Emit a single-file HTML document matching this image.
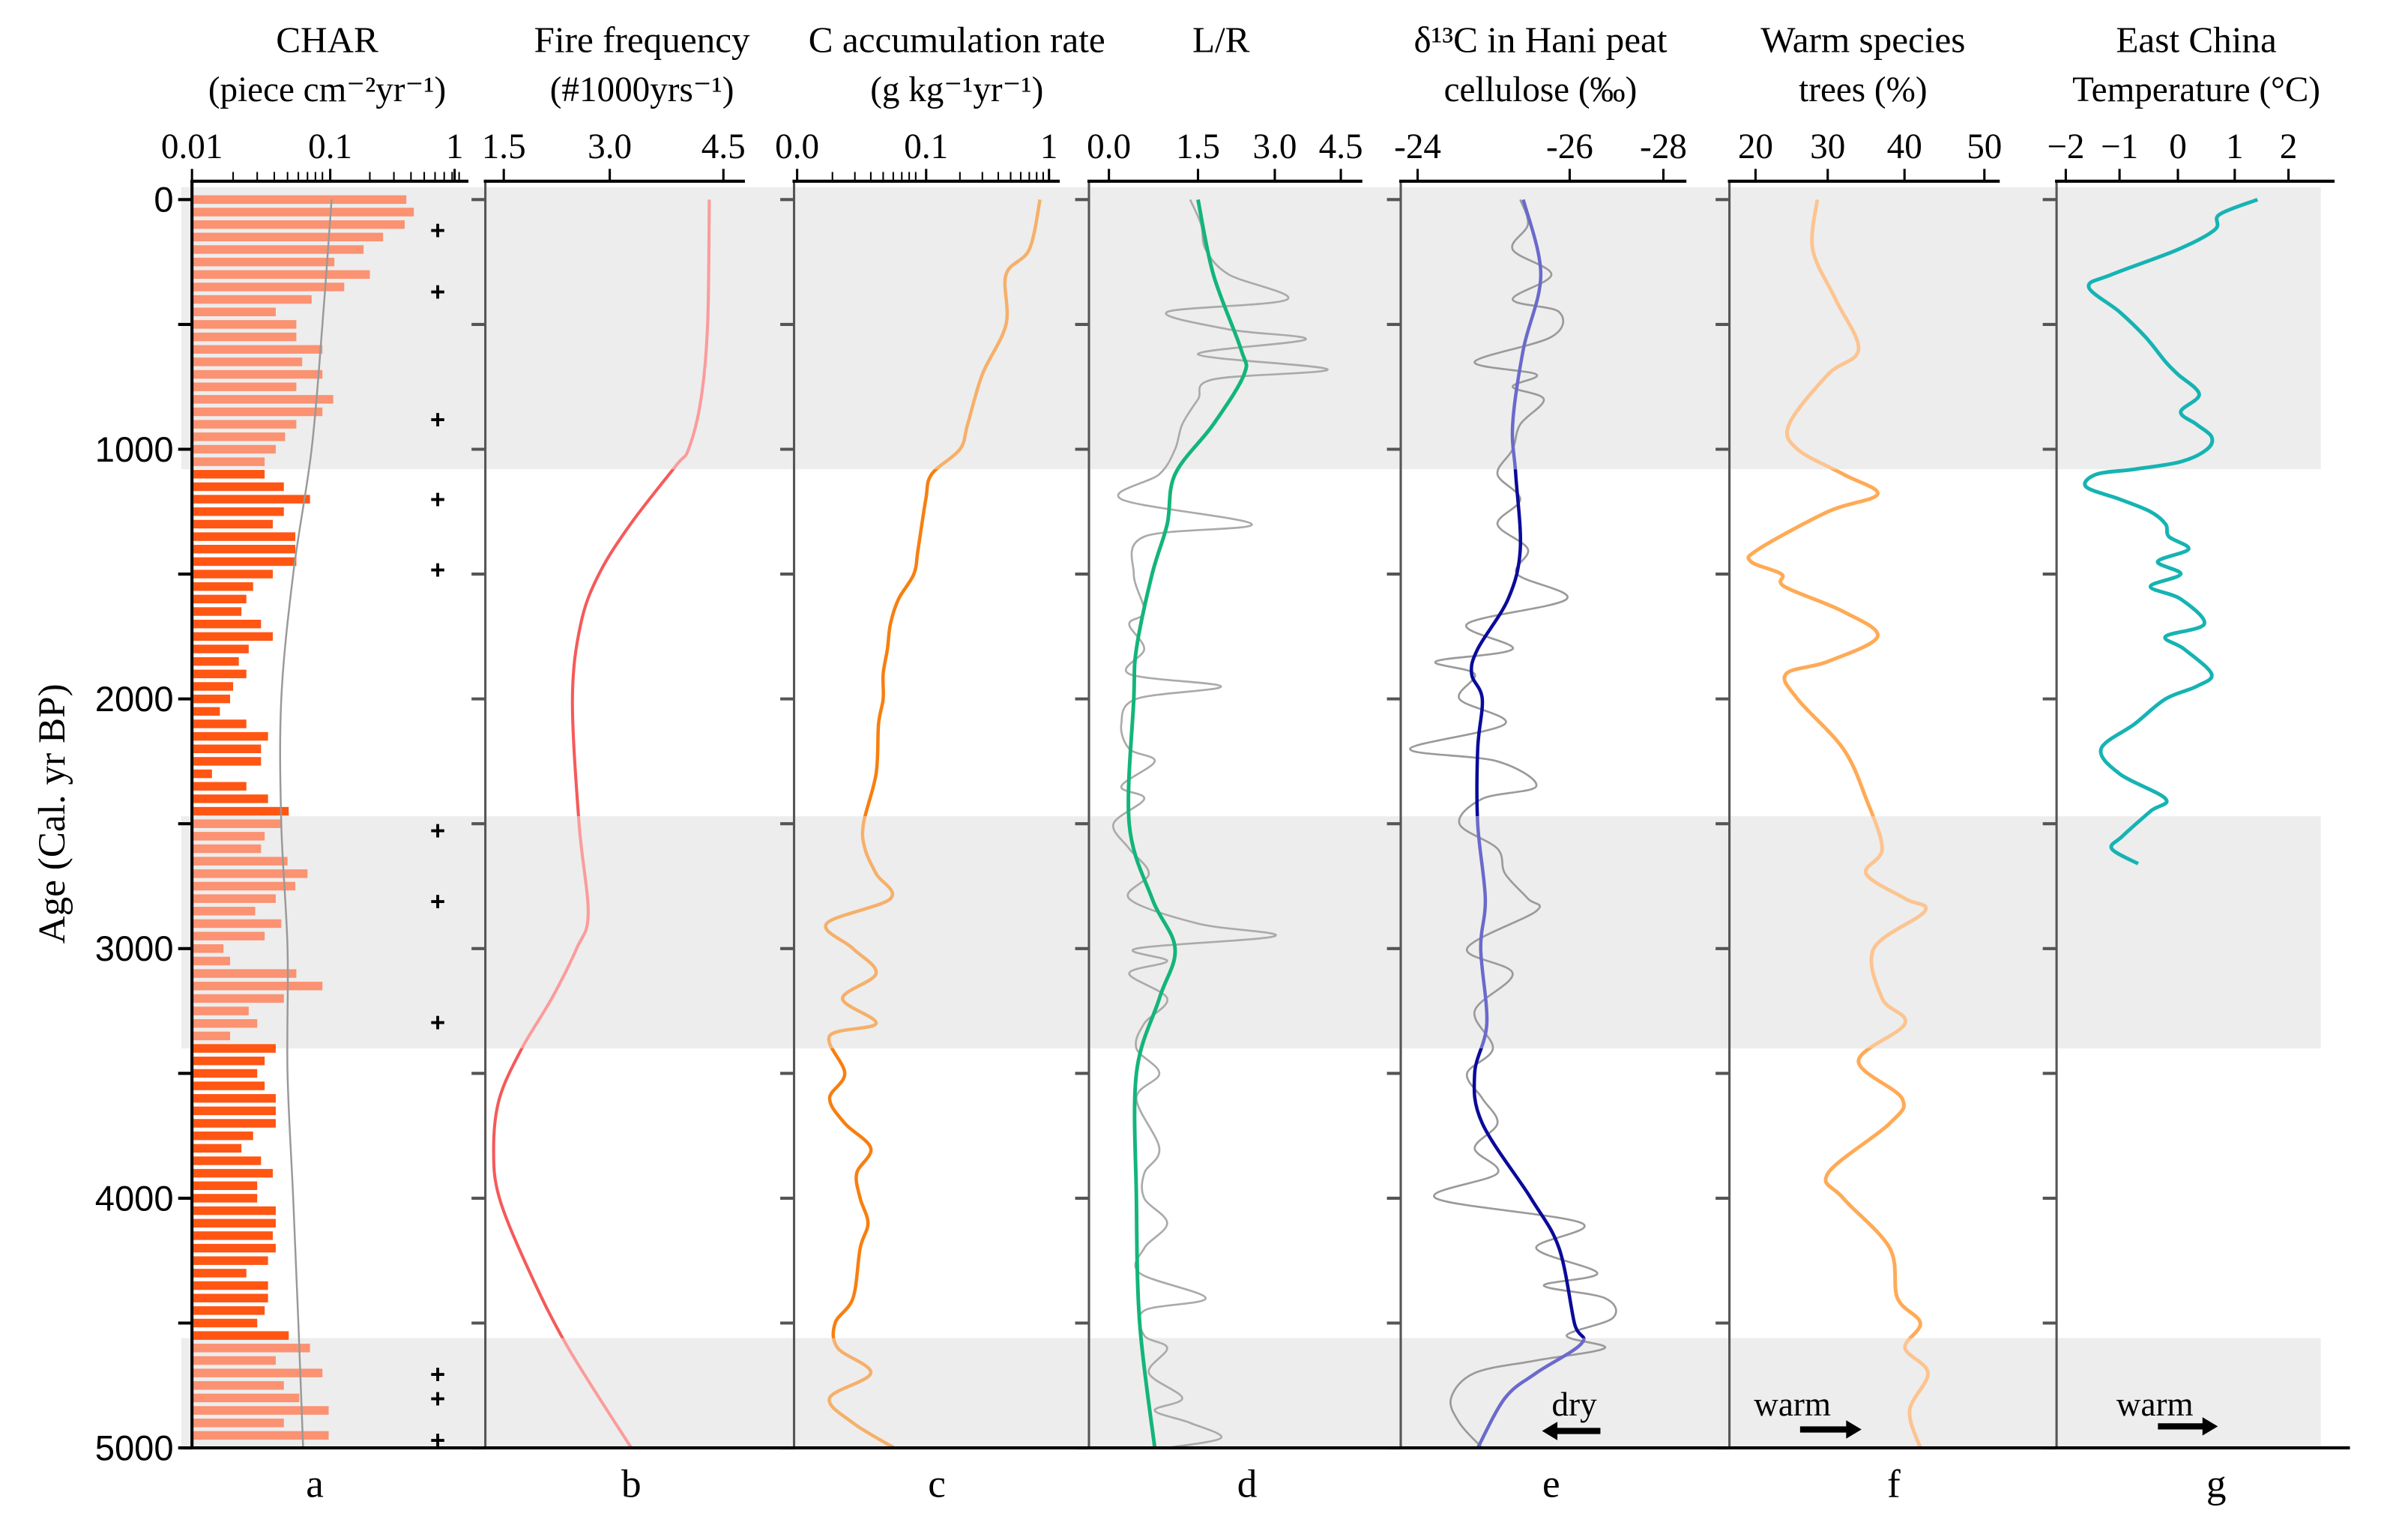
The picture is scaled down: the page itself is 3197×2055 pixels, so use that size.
<!DOCTYPE html>
<html><head><meta charset="utf-8"><style>html,body{margin:0;padding:0;background:#fff}svg{display:block}</style></head>
<body>
<svg id="chart" width="3197" height="2055" viewBox="0 0 1560 1003" preserveAspectRatio="none" xmlns="http://www.w3.org/2000/svg" font-family="Liberation Serif, serif">
<defs>
<clipPath id="shadeClip"></clipPath>
<clipPath id="whiteClip"></clipPath>
</defs>
<g id="bands"></g>
<g id="plots"></g>
<g id="axes"></g>
</svg>
<script>
const NS='http://www.w3.org/2000/svg';
// ---- data ----
const bandRanges=[[-50,1080],[2470,3400],[4560,5000]];
const yTicks=[0,1000,2000,3000,4000,5000];
const charAges=[0,50,100,150,200,250,300,350,400,450,500,550,600,650,700,750,800,850,900,950,1000,1050,1100,1150,1200,1250,1300,1350,1400,1450,1500,1550,1600,1650,1700,1750,1800,1850,1900,1950,2000,2050,2100,2150,2200,2250,2300,2350,2400,2450,2500,2550,2600,2650,2700,2750,2800,2850,2900,2950,3000,3050,3100,3150,3200,3250,3300,3350,3400,3450,3500,3550,3600,3650,3700,3750,3800,3850,3900,3950,4000,4050,4100,4150,4200,4250,4300,4350,4400,4450,4500,4550,4600,4650,4700,4750,4800,4850,4900,4950];
const charValues=[0.37,0.42,0.36,0.25,0.18,0.11,0.20,0.13,0.075,0.041,0.058,0.058,0.09,0.064,0.09,0.058,0.108,0.09,0.058,0.048,0.041,0.034,0.034,0.047,0.073,0.047,0.039,0.057,0.057,0.058,0.039,0.028,0.025,0.023,0.032,0.039,0.026,0.022,0.025,0.020,0.019,0.016,0.025,0.036,0.032,0.032,0.014,0.025,0.036,0.051,0.045,0.034,0.032,0.050,0.070,0.057,0.041,0.029,0.045,0.034,0.017,0.019,0.058,0.09,0.047,0.026,0.030,0.019,0.041,0.034,0.030,0.034,0.041,0.041,0.041,0.028,0.023,0.032,0.039,0.030,0.030,0.041,0.041,0.039,0.041,0.036,0.025,0.036,0.036,0.034,0.030,0.051,0.073,0.041,0.09,0.047,0.061,0.10,0.047,0.10];
const charBgAges=[0,500,1000,1500,2000,2500,3000,3500,4000,4500,5000];
const charBgValues=[0.105,0.09,0.075,0.055,0.045,0.045,0.05,0.05,0.055,0.06,0.065];
const peakAges=[123,369,880,1200,1482,2527,2810,3296,4705,4803,4969];
const fireAges=[0,500,800,1000,1065,1300,1500,1700,2000,2500,2860,3000,3200,3400,3600,3800,4000,4300,4600,5000];
const fireValues=[4.2,4.18,4.1,3.95,3.8,3.25,2.87,2.65,2.55,2.63,2.74,2.6,2.3,1.94,1.67,1.6,1.67,2.04,2.5,3.26];
const cAges=[0,200,300,500,700,900,1000,1100,1200,1400,1500,1600,1700,1800,1900,2000,2100,2300,2500,2600,2700,2800,2900,3000,3100,3200,3300,3350,3500,3600,3700,3800,3900,4000,4100,4200,4400,4500,4600,4700,4800,4900,5000];
const cValues=[0.85,0.70,0.46,0.46,0.30,0.23,0.20,0.12,0.108,0.094,0.087,0.066,0.057,0.054,0.050,0.050,0.046,0.044,0.035,0.036,0.044,0.057,0.018,0.029,0.044,0.024,0.044,0.019,0.025,0.019,0.025,0.040,0.031,0.033,0.038,0.033,0.029,0.021,0.022,0.040,0.019,0.029,0.061];
const lrSmoothAges=[0,300,600,700,900,1100,1300,1500,1800,2000,2500,2800,3000,3200,3500,4000,4500,5000];
const lrSmoothValues=[1.5,1.8,2.34,2.4,1.8,1.15,1.03,0.8,0.56,0.52,0.45,0.8,1.15,0.91,0.56,0.56,0.61,0.84];
const lrRawAges=[0,100,200,300,400,450,520,560,620,680,720,800,900,1000,1100,1200,1300,1350,1500,1650,1700,1800,1900,1950,2000,2100,2200,2250,2350,2400,2500,2600,2700,2800,2900,2950,3000,3050,3100,3200,3300,3400,3500,3600,3800,3900,4000,4100,4200,4300,4400,4450,4550,4600,4700,4800,4850,4900,4960,5000];
const lrRawValues=[1.38,1.56,1.65,2.1,3.28,1.03,2.1,3.7,1.5,4.2,1.8,1.5,1.26,1.15,0.91,0.33,2.55,0.68,0.52,0.68,0.45,0.68,0.45,1.95,0.56,0.33,0.45,0.84,0.33,0.68,0.21,0.45,0.75,0.45,1.5,3.0,0.56,1.03,0.45,1.03,0.68,0.56,0.91,0.56,0.91,0.68,0.68,1.03,0.68,0.61,1.65,0.68,0.68,1.03,0.75,1.26,0.84,1.38,1.95,1.03];
const d13SmoothAges=[0,300,600,900,1100,1400,1600,1800,1900,2000,2200,2500,2800,3000,3300,3500,3700,4000,4200,4500,4580,4700,4800,5000];
const d13SmoothValues=[-25.39,-25.62,-25.39,-25.25,-25.29,-25.35,-25.19,-24.79,-24.71,-24.85,-24.79,-24.79,-24.89,-24.83,-24.91,-24.75,-24.85,-25.49,-25.86,-26.1,-26.26,-25.56,-25.15,-24.79];
const d13RawAges=[0,100,200,300,400,450,550,650,700,750,800,900,1000,1100,1200,1300,1400,1500,1600,1700,1800,1850,1900,2000,2100,2200,2250,2350,2400,2500,2600,2700,2800,2850,3000,3100,3250,3400,3500,3600,3700,3800,3900,4000,4100,4200,4300,4350,4400,4480,4550,4600,4650,4700,4800,4900,5000];
const d13RawValues=[-25.35,-25.45,-25.25,-25.76,-25.25,-25.86,-25.76,-24.75,-25.56,-25.25,-25.66,-25.35,-25.25,-25.05,-25.35,-25.05,-25.45,-25.31,-25.96,-24.65,-25.25,-24.24,-24.75,-24.55,-25.15,-23.9,-25.05,-25.56,-24.85,-24.55,-25.05,-25.15,-25.45,-25.56,-24.65,-25.25,-24.75,-24.99,-24.65,-24.85,-25.05,-24.75,-25.05,-24.24,-26.26,-25.56,-26.59,-25.66,-26.75,-26.92,-25.96,-26.75,-25.56,-24.75,-24.44,-24.55,-24.85];
const warmAges=[0,200,400,600,700,900,1000,1100,1180,1250,1400,1450,1500,1550,1650,1750,1850,1900,2000,2200,2400,2600,2700,2800,2850,3000,3200,3300,3450,3600,3700,3900,4000,4200,4400,4500,4600,4700,4850,5000];
const warmValues=[28.1,27.5,30.5,33.5,29.5,24.4,25.5,31.5,36.0,29.5,20.4,19.4,23.4,23.8,31.5,36.0,29.5,24.0,25.5,31.5,34.5,36.6,34.5,39.6,42.2,35.5,36.6,39.6,33.5,39.2,37.6,29.5,31.5,37.6,38.6,41.6,39.6,42.6,40.2,41.6];
const tempAges=[0,60,120,200,300,350,450,550,650,700,780,850,900,950,1000,1050,1080,1100,1150,1200,1250,1300,1350,1400,1450,1500,1550,1600,1700,1750,1800,1900,1950,2000,2100,2200,2300,2400,2450,2550,2600,2660];
const tempValues=[1.42,0.74,0.66,0,-1.18,-1.59,-1.04,-0.58,-0.22,0,0.38,0.05,0.33,0.6,0.52,0.05,-0.77,-1.45,-1.64,-1.04,-0.49,-0.22,-0.16,0.19,-0.36,0.05,-0.49,0.05,0.47,-0.22,0.11,0.6,0.33,-0.22,-0.77,-1.37,-1.04,-0.22,-0.49,-0.99,-1.18,-0.71];

// ---- scales ----
const Y0=130,Y1=943;
const yS=a=>Y0+(a/5000)*(Y1-Y0);
const logS=(x0,x1,d0,d1)=>v=>x0+(Math.log10(v)-d0)/(d1-d0)*(x1-x0);
const pw=(dom,rng)=>v=>{const n=dom.length;const inc=dom[n-1]>dom[0];let i=0;while(i<n-2&&(inc?v>dom[i+1]:v<dom[i+1]))i++;return rng[i]+(v-dom[i])/(dom[i+1]-dom[i])*(rng[i+1]-rng[i]);};
const xA=logS(125,303,-2,0);
const xB=pw([1.5,4.5],[316,478]);
const xC=logS(517,683,-2,0);
const xD=pw([0,1.5,3,4.5],[716,780,830,873]);
const xE=pw([-24,-26,-28],[923,1022,1083]);
const xF=pw([20,50],[1143,1292]);
const xG=pw([-2,2],[1345,1491]);

function el(tag,attrs,parent){const e=document.createElementNS(NS,tag);for(const k in attrs)e.setAttribute(k,attrs[k]);parent.appendChild(e);return e;}
function txt(s,x,y,parent,opts){const t=el('text',Object.assign({x:x,y:y,'font-size':23,'text-anchor':'middle',fill:'#000'},opts||{}),parent);t.textContent=s;return t;}
function smoothPath(pts){let d='M'+pts[0][0].toFixed(2)+','+pts[0][1].toFixed(2);for(let i=0;i<pts.length-1;i++){const p0=pts[Math.max(0,i-1)],p1=pts[i],p2=pts[i+1],p3=pts[Math.min(pts.length-1,i+2)];const c1=[p1[0]+(p2[0]-p0[0])/6,p1[1]+(p2[1]-p0[1])/6],c2=[p2[0]-(p3[0]-p1[0])/6,p2[1]-(p3[1]-p1[1])/6];d+='C'+c1[0].toFixed(2)+','+c1[1].toFixed(2)+' '+c2[0].toFixed(2)+','+c2[1].toFixed(2)+' '+p2[0].toFixed(2)+','+p2[1].toFixed(2);}return d;}

const bands=document.getElementById('bands'),plots=document.getElementById('plots'),axes=document.getElementById('axes');
const scG=document.getElementById('shadeClip'),wcG=document.getElementById('whiteClip');
bandRanges.forEach((r,i)=>{const y0=yS(r[0]),y1=yS(r[1]);
 const b=el('rect',{x:118,y:y0,width:1393,height:y1-y0,fill:'#ededed'},bands);
 
 
 el('rect',{x:0,y:y0,width:1560,height:y1-y0},scG);});
let prev=0;bandRanges.forEach(r=>{const y0=yS(r[0]);if(y0>prev)el('rect',{x:0,y:prev,width:1560,height:y0-prev},wcG);prev=yS(r[1]);});
el('rect',{x:0,y:prev,width:1560,height:1003-prev},wcG);

function twoTone(d,dark,light,w,name){
 const g=el('g',{},plots);
 
 
 el('path',{d:d,fill:'none',stroke:dark,'stroke-width':w,'clip-path':'url(#whiteClip)'},g);
 el('path',{d:d,fill:'none',stroke:light,'stroke-width':w,'clip-path':'url(#shadeClip)'},g);}
function series(ages,vals,xf){return ages.map((a,i)=>[xf(vals[i]),yS(a)]);}

charAges.forEach((a,i)=>{const y=yS(a);const inShade=bandRanges.some(r=>a>=r[0]&&a<r[1]);
 const r=el('rect',{x:126,y:y-2.8,width:Math.max(0,xA(charValues[i])-126),height:5.6,fill:inShade?'#fb9272':'#ff5614'},plots);
 
 });
const bg=el('path',{d:smoothPath(series(charBgAges,charBgValues,xA)),fill:'none',stroke:'#999','stroke-width':1.2},plots);


peakAges.forEach(a=>{const t=txt('+',285,yS(a)+6,plots,{'font-size':17,'font-weight':'bold','font-family':'Liberation Sans, sans-serif'});
 
 });
twoTone(smoothPath(series(fireAges,fireValues,xB)),'#f55a5a','#fb9c9c',2,'fire-frequency-line');
twoTone(smoothPath(series(cAges,cValues,xC)),'#f77f10','#f6b06a',2.2,'c-accumulation-line');
const lrRaw=el('path',{d:smoothPath(series(lrRawAges,lrRawValues,xD)),fill:'none',stroke:'#aaa','stroke-width':1.3},plots);


const lrS=el('path',{d:smoothPath(series(lrSmoothAges,lrSmoothValues,xD)),fill:'none',stroke:'#13b57a','stroke-width':2.4},plots);


const eRaw=el('path',{d:smoothPath(series(d13RawAges,d13RawValues,xE)),fill:'none',stroke:'#9a9a9a','stroke-width':1.3},plots);


twoTone(smoothPath(series(d13SmoothAges,d13SmoothValues,xE)),'#0a0a9a','#6a6acc',2.2,'d13c-smooth-line');
twoTone(smoothPath(series(warmAges,warmValues,xF)),'#ffaa55','#fcc490',2.4,'warm-species-line');
const tl=el('path',{d:smoothPath(series(tempAges,tempValues,xG)),fill:'none',stroke:'#16b3b3','stroke-width':2.4},plots);



const panels=[
 {x:125,end:305,name:'char',t1:'CHAR',t2:'(piece cm\u207B\u00B2yr\u207B\u00B9)',cx:213,labels:[['0.01',125],['0.1',215],['1',296]],letter:'a',lx:205},
 {x:316,end:485,name:'fire-frequency',t1:'Fire frequency',t2:'(#1000yrs\u207B\u00B9)',cx:418,labels:[['1.5',328],['3.0',397],['4.5',471]],letter:'b',lx:411},
 {x:517,end:690,name:'c-accumulation',t1:'C accumulation rate',t2:'(g  kg\u207B\u00B9yr\u207B\u00B9)',cx:623,labels:[['0.0',519],['0.1',603],['1',683]],letter:'c',lx:610},
 {x:709,end:887,name:'lr',t1:'L/R',t2:'',cx:795,labels:[['0.0',722],['1.5',780],['3.0',830],['4.5',873]],letter:'d',lx:812},
 {x:912,end:1098,name:'d13c',t1:'\u03B4\u00B9\u00B3C in Hani peat',t2:'cellulose (\u2030)',cx:1003,labels:[['-24',923],['-26',1022],['-28',1083]],letter:'e',lx:1010},
 {x:1126,end:1302,name:'warm-species',t1:'Warm species',t2:'trees (%)',cx:1213,labels:[['20',1143],['30',1190],['40',1240],['50',1292]],letter:'f',lx:1233},
 {x:1339,end:1520,name:'temperature',t1:'East China',t2:'Temperature (\u00B0C)',cx:1430,labels:[['\u22122',1345],['\u22121',1380],['0',1418],['1',1455],['2',1490]],letter:'g',lx:1443}];
panels.forEach((p,i)=>{
 const g=el('g',{},axes);
 
 
 el('line',{x1:p.x,y1:118,x2:p.x,y2:943,stroke:i===0?'#000':'#555','stroke-width':i===0?2:1.5},g);
 el('line',{x1:p.x-1,y1:118,x2:p.end,y2:118,stroke:'#000','stroke-width':2},g);
 for(let a=0;a<=5000;a+=500){el('line',{x1:p.x-9,y1:yS(a),x2:p.x,y2:yS(a),stroke:i===0?'#000':'#555','stroke-width':2},g);}
 p.labels.forEach(l=>{const t=txt(l[0],l[1],103,g,{'font-size':23});
  
  
  el('line',{x1:l[1],y1:110,x2:l[1],y2:118,stroke:'#000','stroke-width':1.5},g);});
 const t1=txt(p.t1,p.cx,34,g,{'font-size':24});
 
 
 if(p.t2){const t2=txt(p.t2,p.cx,66,g,{'font-size':23});
  
  }
 const lt=txt(p.letter,p.lx,975,g,{'font-size':26});
 
 
});
[xA,xC].forEach(f=>{for(let d=-2;d<0;d++)for(let m=2;m<=9;m++){const x=f(m*Math.pow(10,d));el('line',{x1:x,y1:112,x2:x,y2:118,stroke:'#000','stroke-width':1},axes);}});
yTicks.forEach(a=>{const t=txt(String(a),113,yS(a)+8,axes,{'text-anchor':'end','font-size':23,'font-family':'Liberation Sans, sans-serif'});
 
 });
const yt=txt('Age (Cal. yr BP)',0,0,axes,{'font-size':25,transform:'translate(42,530) rotate(-90)'});


el('line',{x1:118,y1:943,x2:1530,y2:943,stroke:'#000','stroke-width':2},axes);
function arrow(x1,x2,y,name){const g=el('g',{},axes);
 const dir=Math.sign(x2-x1);el('line',{x1:x1,y1:y,x2:x2-dir*8,y2:y,stroke:'#000','stroke-width':4},g);
 el('polygon',{points:`${x2},${y} ${x2-dir*10},${y-6} ${x2-dir*10},${y+6}`,fill:'#000'},g);}
let t=txt('dry',1025,922,axes,{'font-size':22});
arrow(1042,1004,932,'dry-arrow');
t=txt('warm',1167,922,axes,{'font-size':22});
arrow(1172,1212,931,'warm-arrow-f');
t=txt('warm',1403,922,axes,{'font-size':22});
arrow(1405,1444,929,'warm-arrow-g');
</script>
</body></html>
